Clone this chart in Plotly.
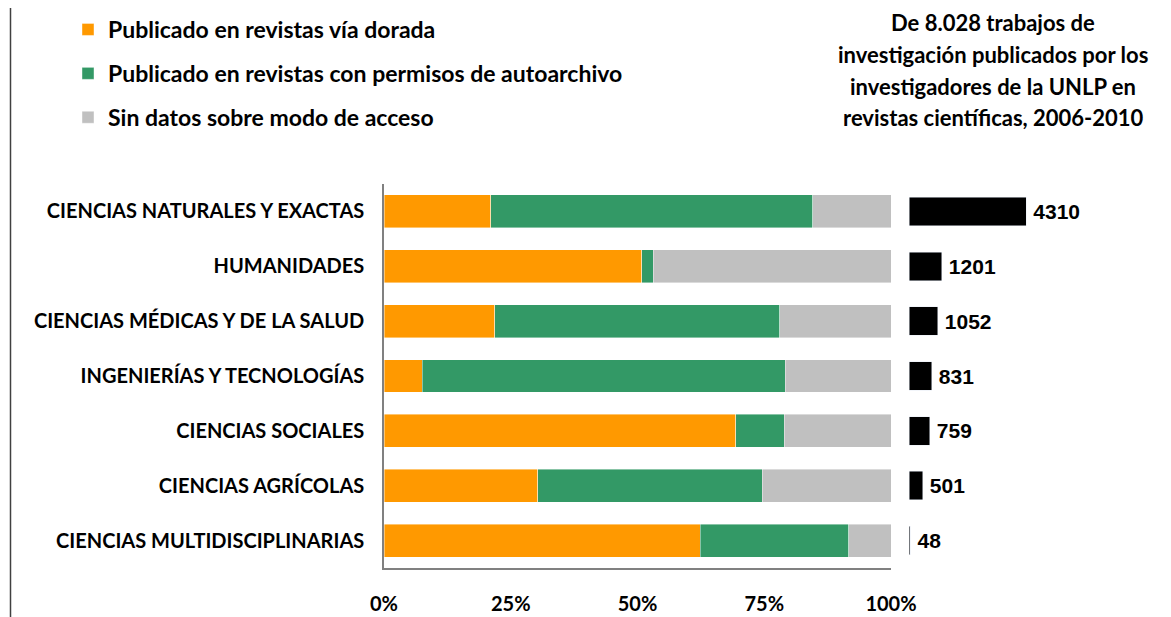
import plotly.graph_objects as go

categories = [
    "CIENCIAS NATURALES Y EXACTAS",
    "HUMANIDADES",
    "CIENCIAS MÉDICAS Y DE LA SALUD",
    "INGENIERÍAS Y TECNOLOGÍAS",
    "CIENCIAS SOCIALES",
    "CIENCIAS AGRÍCOLAS",
    "CIENCIAS MULTIDISCIPLINARIAS",
]
dorada_pct = [21.1, 50.8, 21.8, 7.5, 69.4, 30.3, 62.4]
autoarchivo_pct = [63.5, 2.3, 56.3, 71.6, 9.5, 44.3, 29.3]
sin_datos_pct = [round(100 - a - b, 1) for a, b in zip(dorada_pct, autoarchivo_pct)]
trabajos = [4310, 1201, 1052, 831, 759, 501, 48]
tick_vals = [0, 25, 50, 75, 100]
tick_text = ["0%", "25%", "50%", "75%", "100%"]
legend_names = [
    "Publicado en revistas vía dorada",
    "Publicado en revistas con permisos de autoarchivo",
    "Sin datos sobre modo de acceso",
]
title_lines = [
    "De 8.028 trabajos de",
    "investigación publicados por los",
    "investigadores de la UNLP en",
    "revistas científicas, 2006-2010",
]

# page body has an 8px margin; figure positioned so it lines up with the window
OFF = 8
W, H = 1171 - 2 * OFF, 617 - OFF
def X(px):
    return (px - OFF) / W
def Y(py):
    return 1 - (py - OFF) / H

FONT = "Lato"
colors = ["#FF9900", "#339966", "#C0C0C0"]

fig = go.Figure()
for i, (name, vals) in enumerate(zip(legend_names, [dorada_pct, autoarchivo_pct, sin_datos_pct])):
    fig.add_trace(go.Bar(
        y=categories, x=vals, orientation="h", name=name,
        marker=dict(color=colors[i], line=dict(width=0.6, color="rgba(255,255,255,0.7)")),
        width=0.6, legendgroup=f"g{i}", xaxis="x", yaxis="y",
    ))

fig.add_trace(go.Bar(
    y=categories, x=trabajos, orientation="h", showlegend=False,
    marker=dict(color="#000000"), width=0.52,
    text=["\u2009" + str(v) for v in trabajos], textposition="outside",
    textfont=dict(family="Liberation Sans", size=21, color="#000000", weight="bold"),
    cliponaxis=False, xaxis="x2", yaxis="y2",
))

ytop, ybot = 184, 568
fig.update_layout(
    width=W, height=H,
    margin=dict(l=0, r=0, t=0, b=0, autoexpand=False),
    paper_bgcolor="white", plot_bgcolor="white",
    barmode="stack",
    font=dict(family=FONT, size=20, color="#000000", weight="bold"),
    xaxis=dict(
        domain=[X(384), X(891)], range=[0, 100],
        tickvals=tick_vals, ticktext=tick_text,
        showgrid=False, zeroline=False, showline=True, linecolor="#808080", linewidth=1.5,
        ticks="", ticklabelstandoff=17, tickfont=dict(size=20),
        anchor="y", automargin=False,
    ),
    yaxis=dict(
        domain=[Y(ybot), Y(ytop)],
        autorange="reversed", showgrid=False, zeroline=False,
        showline=True, linecolor="#808080", linewidth=1.5,
        ticks="", ticklabelstandoff=14, tickfont=dict(size=20),
        anchor="x", automargin=False,
    ),
    xaxis2=dict(
        domain=[X(909), 1.0], range=[0, 9350], visible=False, anchor="y2",
        automargin=False,
    ),
    yaxis2=dict(
        domain=[Y(ybot), Y(ytop)], autorange="reversed",
        visible=False, anchor="x2", matches="y", automargin=False,
    ),
    legend=dict(
        x=X(68), y=Y(8), xanchor="left", yanchor="top",
        traceorder="grouped", tracegroupgap=11,
        font=dict(size=23), bgcolor="rgba(0,0,0,0)",
    ),
    showlegend=True,
)

line_y = [23, 54, 86, 117]
for txt, yy in zip(title_lines, line_y):
    fig.add_annotation(
        text=txt, x=X(993), y=Y(yy), xref="paper", yref="paper",
        xanchor="center", yanchor="middle", showarrow=False,
        font=dict(size=22, family=FONT, weight="bold"),
    )

fig.add_shape(type="line", xref="paper", yref="paper",
              x0=X(10.5), x1=X(10.5), y0=0, y1=1,
              line=dict(color="#404040", width=1.5))

fig.write_html("out.html")
